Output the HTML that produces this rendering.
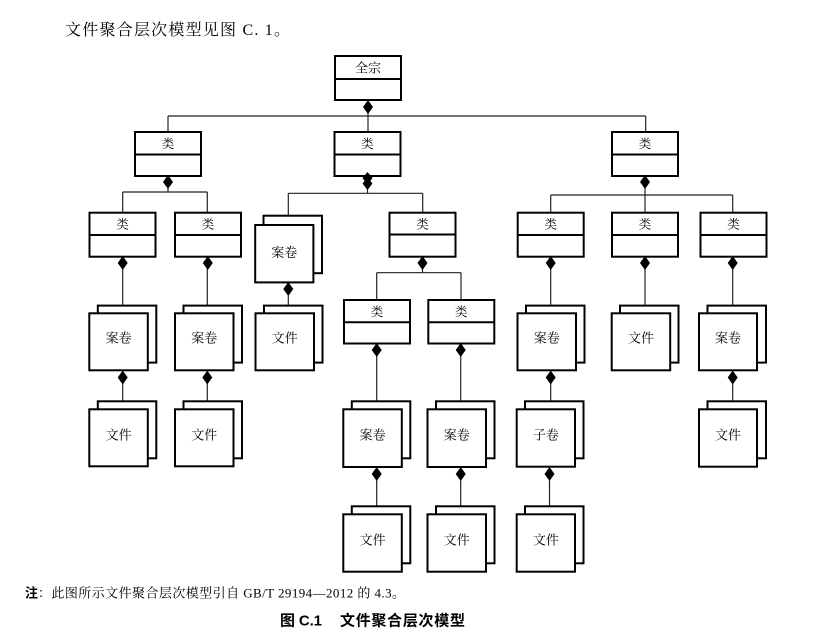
<!DOCTYPE html>
<html>
<head>
<meta charset="utf-8">
<style>
html,body{margin:0;padding:0;background:#fff;}
body{width:818px;height:643px;overflow:hidden;}
svg{display:block;}
.s{font-family:"Liberation Serif","Noto Serif CJK SC",serif;fill:#000;}
.b{font-family:"Liberation Sans","Noto Sans CJK SC",sans-serif;font-weight:bold;fill:#000;}
</style>
</head>
<body>
<svg width="818" height="643" viewBox="0 0 818 643" xmlns="http://www.w3.org/2000/svg">
<rect x="0" y="0" width="818" height="643" fill="#fff"/>

<!-- title -->
<text class="s" x="65" y="35" font-size="16" textLength="225" lengthAdjust="spacing">文件聚合层次模型见图 C. 1。</text>

<!-- connectors -->
<g stroke="#222" stroke-width="1.2" fill="none">
  <line x1="368" y1="112" x2="368" y2="116"/>
  <line x1="168" y1="116" x2="645.7" y2="116"/>
  <line x1="168" y1="116" x2="168" y2="132"/>
  <line x1="368" y1="116" x2="368" y2="132"/>
  <line x1="645.7" y1="116" x2="645.7" y2="132"/>
  <line x1="168" y1="188" x2="168" y2="192"/>
  <line x1="122.7" y1="192" x2="207.3" y2="192"/>
  <line x1="122.7" y1="192" x2="122.7" y2="212.7"/>
  <line x1="207.3" y1="192" x2="207.3" y2="212.7"/>
  <line x1="367.5" y1="189" x2="367.5" y2="193.3"/>
  <line x1="288.3" y1="193.3" x2="422.7" y2="193.3"/>
  <line x1="288.3" y1="193.3" x2="288.3" y2="215.7"/>
  <line x1="422.7" y1="193.3" x2="422.7" y2="212.7"/>
  <line x1="645" y1="188" x2="645" y2="195"/>
  <line x1="550.7" y1="195" x2="732.7" y2="195"/>
  <line x1="550.7" y1="195" x2="550.7" y2="212.7"/>
  <line x1="645" y1="195" x2="645" y2="212.7"/>
  <line x1="732.7" y1="195" x2="732.7" y2="212.7"/>
  <line x1="422.5" y1="268" x2="422.5" y2="272.7"/>
  <line x1="376.7" y1="272.7" x2="461" y2="272.7"/>
  <line x1="376.7" y1="272.7" x2="376.7" y2="300"/>
  <line x1="461" y1="272.7" x2="461" y2="300"/>
  <line x1="122.7" y1="268" x2="122.7" y2="306"/>
  <line x1="207.3" y1="268" x2="207.3" y2="306"/>
  <line x1="550.7" y1="268" x2="550.7" y2="306"/>
  <line x1="645" y1="268" x2="645" y2="306"/>
  <line x1="732.7" y1="268" x2="732.7" y2="306"/>
  <line x1="288.3" y1="294" x2="288.3" y2="306"/>
  <line x1="376.7" y1="355" x2="376.7" y2="401.5"/>
  <line x1="460.7" y1="355" x2="460.7" y2="401.5"/>
  <line x1="122.7" y1="383" x2="122.7" y2="401.5"/>
  <line x1="207.3" y1="383" x2="207.3" y2="401.5"/>
  <line x1="550.7" y1="383" x2="550.7" y2="401.5"/>
  <line x1="732.7" y1="383" x2="732.7" y2="401.5"/>
  <line x1="376.7" y1="479" x2="376.7" y2="506.5"/>
  <line x1="460.7" y1="479" x2="460.7" y2="506.5"/>
  <line x1="549.5" y1="479" x2="549.5" y2="506.5"/>
</g>

<!-- class boxes -->
<g stroke="#000" stroke-width="2" fill="#fff">
  <rect x="335" y="56" width="66" height="44"/><line x1="335" y1="79" x2="401" y2="79"/>
  <rect x="135" y="132" width="66" height="44"/><line x1="135" y1="154.5" x2="201" y2="154.5"/>
  <rect x="334.5" y="132" width="66" height="44"/><line x1="334.5" y1="154.5" x2="400.5" y2="154.5"/>
  <rect x="612" y="132" width="66" height="44"/><line x1="612" y1="154.5" x2="678" y2="154.5"/>

  <rect x="89.5" y="212.7" width="66" height="44"/><line x1="89.5" y1="235" x2="155.5" y2="235"/>
  <rect x="175" y="212.7" width="66" height="44"/><line x1="175" y1="235" x2="241" y2="235"/>
  <rect x="389.5" y="212.7" width="66" height="44"/><line x1="389.5" y1="234.5" x2="455.5" y2="234.5"/>
  <rect x="517.7" y="212.7" width="66" height="44"/><line x1="517.7" y1="235" x2="583.7" y2="235"/>
  <rect x="612" y="212.7" width="66" height="44"/><line x1="612" y1="235" x2="678" y2="235"/>
  <rect x="700.5" y="212.7" width="66" height="44"/><line x1="700.5" y1="235" x2="766.5" y2="235"/>

  <rect x="344" y="300" width="66" height="43.5"/><line x1="344" y1="322.3" x2="410" y2="322.3"/>
  <rect x="428.3" y="300" width="66" height="43.5"/><line x1="428.3" y1="322.3" x2="494.3" y2="322.3"/>
</g>

<!-- stacks -->
<g stroke="#000" stroke-width="2" fill="#fff">
  <rect x="97.8" y="305.6" width="58.5" height="57"/><rect x="89.3" y="313.3" width="58.5" height="57"/>
  <rect x="183.5" y="305.6" width="58.5" height="57"/><rect x="175" y="313.3" width="58.5" height="57"/>
  <rect x="263.5" y="215.7" width="58.5" height="57.5"/><rect x="255.2" y="225" width="58.2" height="57.4"/>
  <rect x="264" y="305.6" width="58.5" height="57"/><rect x="255.5" y="313.3" width="58.5" height="57"/>
  <rect x="97.8" y="401.3" width="58.5" height="57"/><rect x="89.3" y="409.3" width="58.5" height="57"/>
  <rect x="183.5" y="401.3" width="58.5" height="57"/><rect x="175" y="409.3" width="58.5" height="57"/>
  <rect x="351.8" y="401.3" width="58.5" height="57"/><rect x="343.3" y="409.3" width="58.5" height="57.7"/>
  <rect x="436" y="401.3" width="58.5" height="57"/><rect x="427.5" y="409.3" width="58.5" height="57.7"/>
  <rect x="351.8" y="506.3" width="58.5" height="57"/><rect x="343.3" y="514.3" width="58.5" height="57.4"/>
  <rect x="436" y="506.3" width="58.5" height="57"/><rect x="427.5" y="514.3" width="58.5" height="57.4"/>
  <rect x="526" y="305.6" width="58.5" height="57"/><rect x="517.5" y="313.3" width="58.5" height="57"/>
  <rect x="620" y="305.6" width="58.5" height="57"/><rect x="611.7" y="313.3" width="58.5" height="57"/>
  <rect x="707.5" y="305.6" width="58.5" height="57"/><rect x="699" y="313.3" width="58" height="57"/>
  <rect x="525" y="401.3" width="58.5" height="57"/><rect x="516.7" y="409.3" width="58.3" height="57.4"/>
  <rect x="525" y="506.3" width="58.5" height="57"/><rect x="516.7" y="514.3" width="58.3" height="57.4"/>
  <rect x="707.5" y="401.3" width="58.5" height="57"/><rect x="699" y="409.3" width="58" height="57.4"/>
</g>

<!-- diamonds -->
<g fill="#000" stroke="none">
  <polygon points="368,100 373,107 368,114 363,107"/>
  <polygon points="168,175 173,182 168,189 163,182"/>
  <polygon points="645,175 650,182 645,189 640,182"/>
  <polygon points="367.5,172 372.5,178 367.5,184.5 362.5,178"/>
  <polygon points="367.5,177.5 372.5,183.5 367.5,190 362.5,183.5"/>

  <polygon points="122.7,256 127.7,263 122.7,270 117.7,263"/>
  <polygon points="207.8,256 212.8,263 207.8,270 202.8,263"/>
  <polygon points="422.5,256 427.5,263 422.5,270 417.5,263"/>
  <polygon points="550.7,256 555.7,263 550.7,270 545.7,263"/>
  <polygon points="645,256 650,263 645,270 640,263"/>
  <polygon points="732.7,256 737.7,263 732.7,270 727.7,263"/>

  <polygon points="376.7,343 381.7,350 376.7,357 371.7,350"/>
  <polygon points="460.7,343 465.7,350 460.7,357 455.7,350"/>

  <polygon points="288.3,282 293.3,289 288.3,296 283.3,289"/>

  <polygon points="122.7,370.5 127.7,377.5 122.7,384.5 117.7,377.5"/>
  <polygon points="207.3,370.5 212.3,377.5 207.3,384.5 202.3,377.5"/>
  <polygon points="550.7,370.5 555.7,377.5 550.7,384.5 545.7,377.5"/>
  <polygon points="732.7,370.5 737.7,377.5 732.7,384.5 727.7,377.5"/>

  <polygon points="376.7,467 381.7,474 376.7,481 371.7,474"/>
  <polygon points="460.7,467 465.7,474 460.7,481 455.7,474"/>
  <polygon points="549.5,467 554.5,474 549.5,481 544.5,474"/>
</g>

<!-- box labels -->
<g class="s" font-size="12.5" text-anchor="middle">
  <text x="368" y="72.5" font-size="13">全宗</text>
  <text x="168" y="148">类</text>
  <text x="367.5" y="148">类</text>
  <text x="645" y="148">类</text>
  <text x="122.5" y="228.5">类</text>
  <text x="208" y="228.5">类</text>
  <text x="422.5" y="228.5">类</text>
  <text x="550.7" y="228.5">类</text>
  <text x="645" y="228.5">类</text>
  <text x="733.5" y="228.5">类</text>
  <text x="377" y="316">类</text>
  <text x="461.3" y="316">类</text>
</g>
<g class="s" font-size="13" text-anchor="middle">
  <text x="118.6" y="342.5">案卷</text>
  <text x="204.3" y="342.5">案卷</text>
  <text x="284.3" y="257">案卷</text>
  <text x="284.8" y="342.5">文件</text>
  <text x="118.6" y="439.5">文件</text>
  <text x="204.3" y="439.5">文件</text>
  <text x="372.6" y="439.5">案卷</text>
  <text x="456.8" y="439.5">案卷</text>
  <text x="372.6" y="544.5">文件</text>
  <text x="456.8" y="544.5">文件</text>
  <text x="546.8" y="342.5">案卷</text>
  <text x="641" y="342.5">文件</text>
  <text x="728" y="342.5">案卷</text>
  <text x="545.9" y="439.5">子卷</text>
  <text x="545.9" y="544.5">文件</text>
  <text x="728" y="439.5">文件</text>
</g>

<!-- note -->
<text class="b" x="25" y="597.5" font-size="13">注</text>
<text class="s" x="38" y="597.5" font-size="13" textLength="367" lengthAdjust="spacing">：此图所示文件聚合层次模型引自 GB/T 29194—2012 的 4.3。</text>

<!-- caption -->
<text class="b" x="280" y="625.5" font-size="15" textLength="42" lengthAdjust="spacing">图 C.1</text>
<text class="b" x="340" y="625.5" font-size="15" textLength="125" lengthAdjust="spacing">文件聚合层次模型</text>
</svg>
</body>
</html>
